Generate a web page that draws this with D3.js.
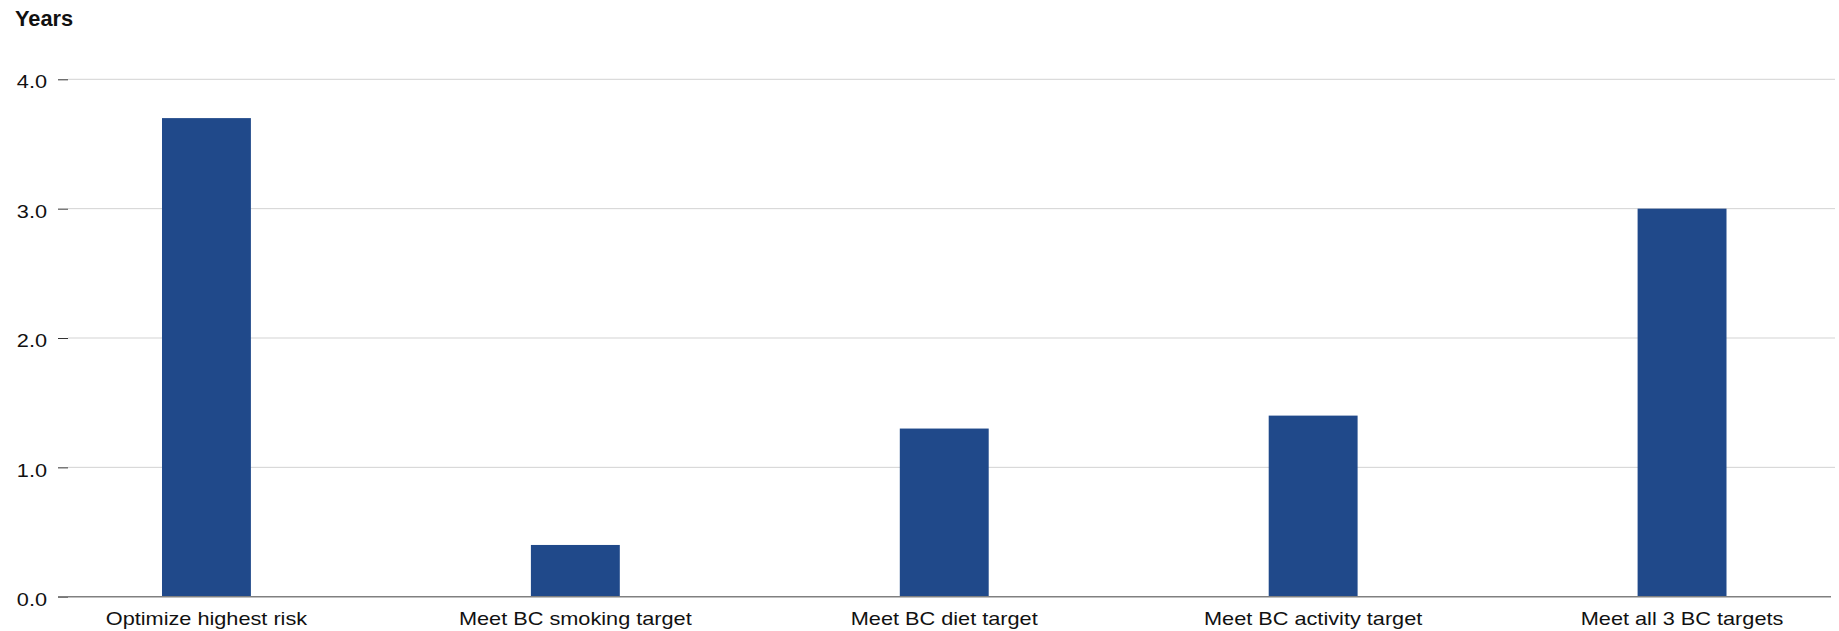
<!DOCTYPE html>
<html>
<head>
<meta charset="utf-8">
<script src="https://cdn.jsdelivr.net/npm/d3@7"></script>
<style>
  html, body { margin: 0; padding: 0; background: #fff; }
  svg { display: block; }
  text { font-family: "Liberation Sans", Arial, Helvetica, sans-serif; fill: #111; }
</style>
</head>
<body>
<svg id="chart" width="1839" height="631"></svg>
<script>
const categories = ["Optimize highest risk", "Meet BC smoking target", "Meet BC diet target", "Meet BC activity target", "Meet all 3 BC targets"];
const values = [3.7, 0.4, 1.3, 1.4, 3.0];
const yTicks = [0, 1, 2, 3, 4];
const yTitle = "Years";

const svg = d3.select("#chart");
const y0 = 596.7, y1 = 79.3;
const textScale = 1.18;

const x = d3.scaleBand().domain(categories).range([22, 1866.5]).paddingInner(0.759).paddingOuter(0.3795);
const y = d3.scaleLinear().domain([0, 4]).range([y0, y1]);

// gridlines
svg.append("g").selectAll("line").data(yTicks.filter(d => d > 0)).join("line")
  .attr("x1", 68).attr("x2", 1835)
  .attr("y1", d => y(d)).attr("y2", d => y(d))
  .attr("stroke", "#d3d3d3").attr("stroke-width", 1);

// y axis ticks + labels
const yAxis = d3.axisLeft(y).tickValues(yTicks).tickFormat(d3.format(".1f")).tickSize(10).tickPadding(0);
const gy = svg.append("g").attr("transform", "translate(68,0)").call(yAxis);
gy.select(".domain").remove();
gy.selectAll(".tick line").attr("stroke", "#333").attr("stroke-width", 1);
gy.selectAll(".tick text")
  .attr("x", null).attr("dy", "0.47em")
  .attr("transform", `translate(-21,0) scale(${textScale},1)`)
  .attr("text-anchor", "end")
  .style("font-size", "18.4px").style("font-family", '"Liberation Sans", Arial, sans-serif').attr("fill", "#111");

// bars
svg.append("g").selectAll("rect").data(values).join("rect")
  .attr("x", (d, i) => x(categories[i]))
  .attr("width", x.bandwidth())
  .attr("y", d => y(d))
  .attr("height", d => y(0) - y(d))
  .attr("fill", "#20498a");

// baseline
svg.append("line").attr("x1", 58).attr("x2", 1831).attr("y1", y(0)).attr("y2", y(0))
  .attr("stroke", "#808080").attr("stroke-width", 1.5);

// category labels
svg.append("g").selectAll("text").data(categories).join("text")
  .attr("transform", d => `translate(${x(d) + x.bandwidth() / 2},625) scale(${textScale},1)`)
  .attr("text-anchor", "middle")
  .style("font-size", "18.4px")
  .text(d => d);

// title
svg.append("text").attr("x", 15).attr("y", 25.7)
  .style("font-size", "21.8px").style("font-weight", "bold")
  .text(yTitle);
</script>
</body>
</html>
